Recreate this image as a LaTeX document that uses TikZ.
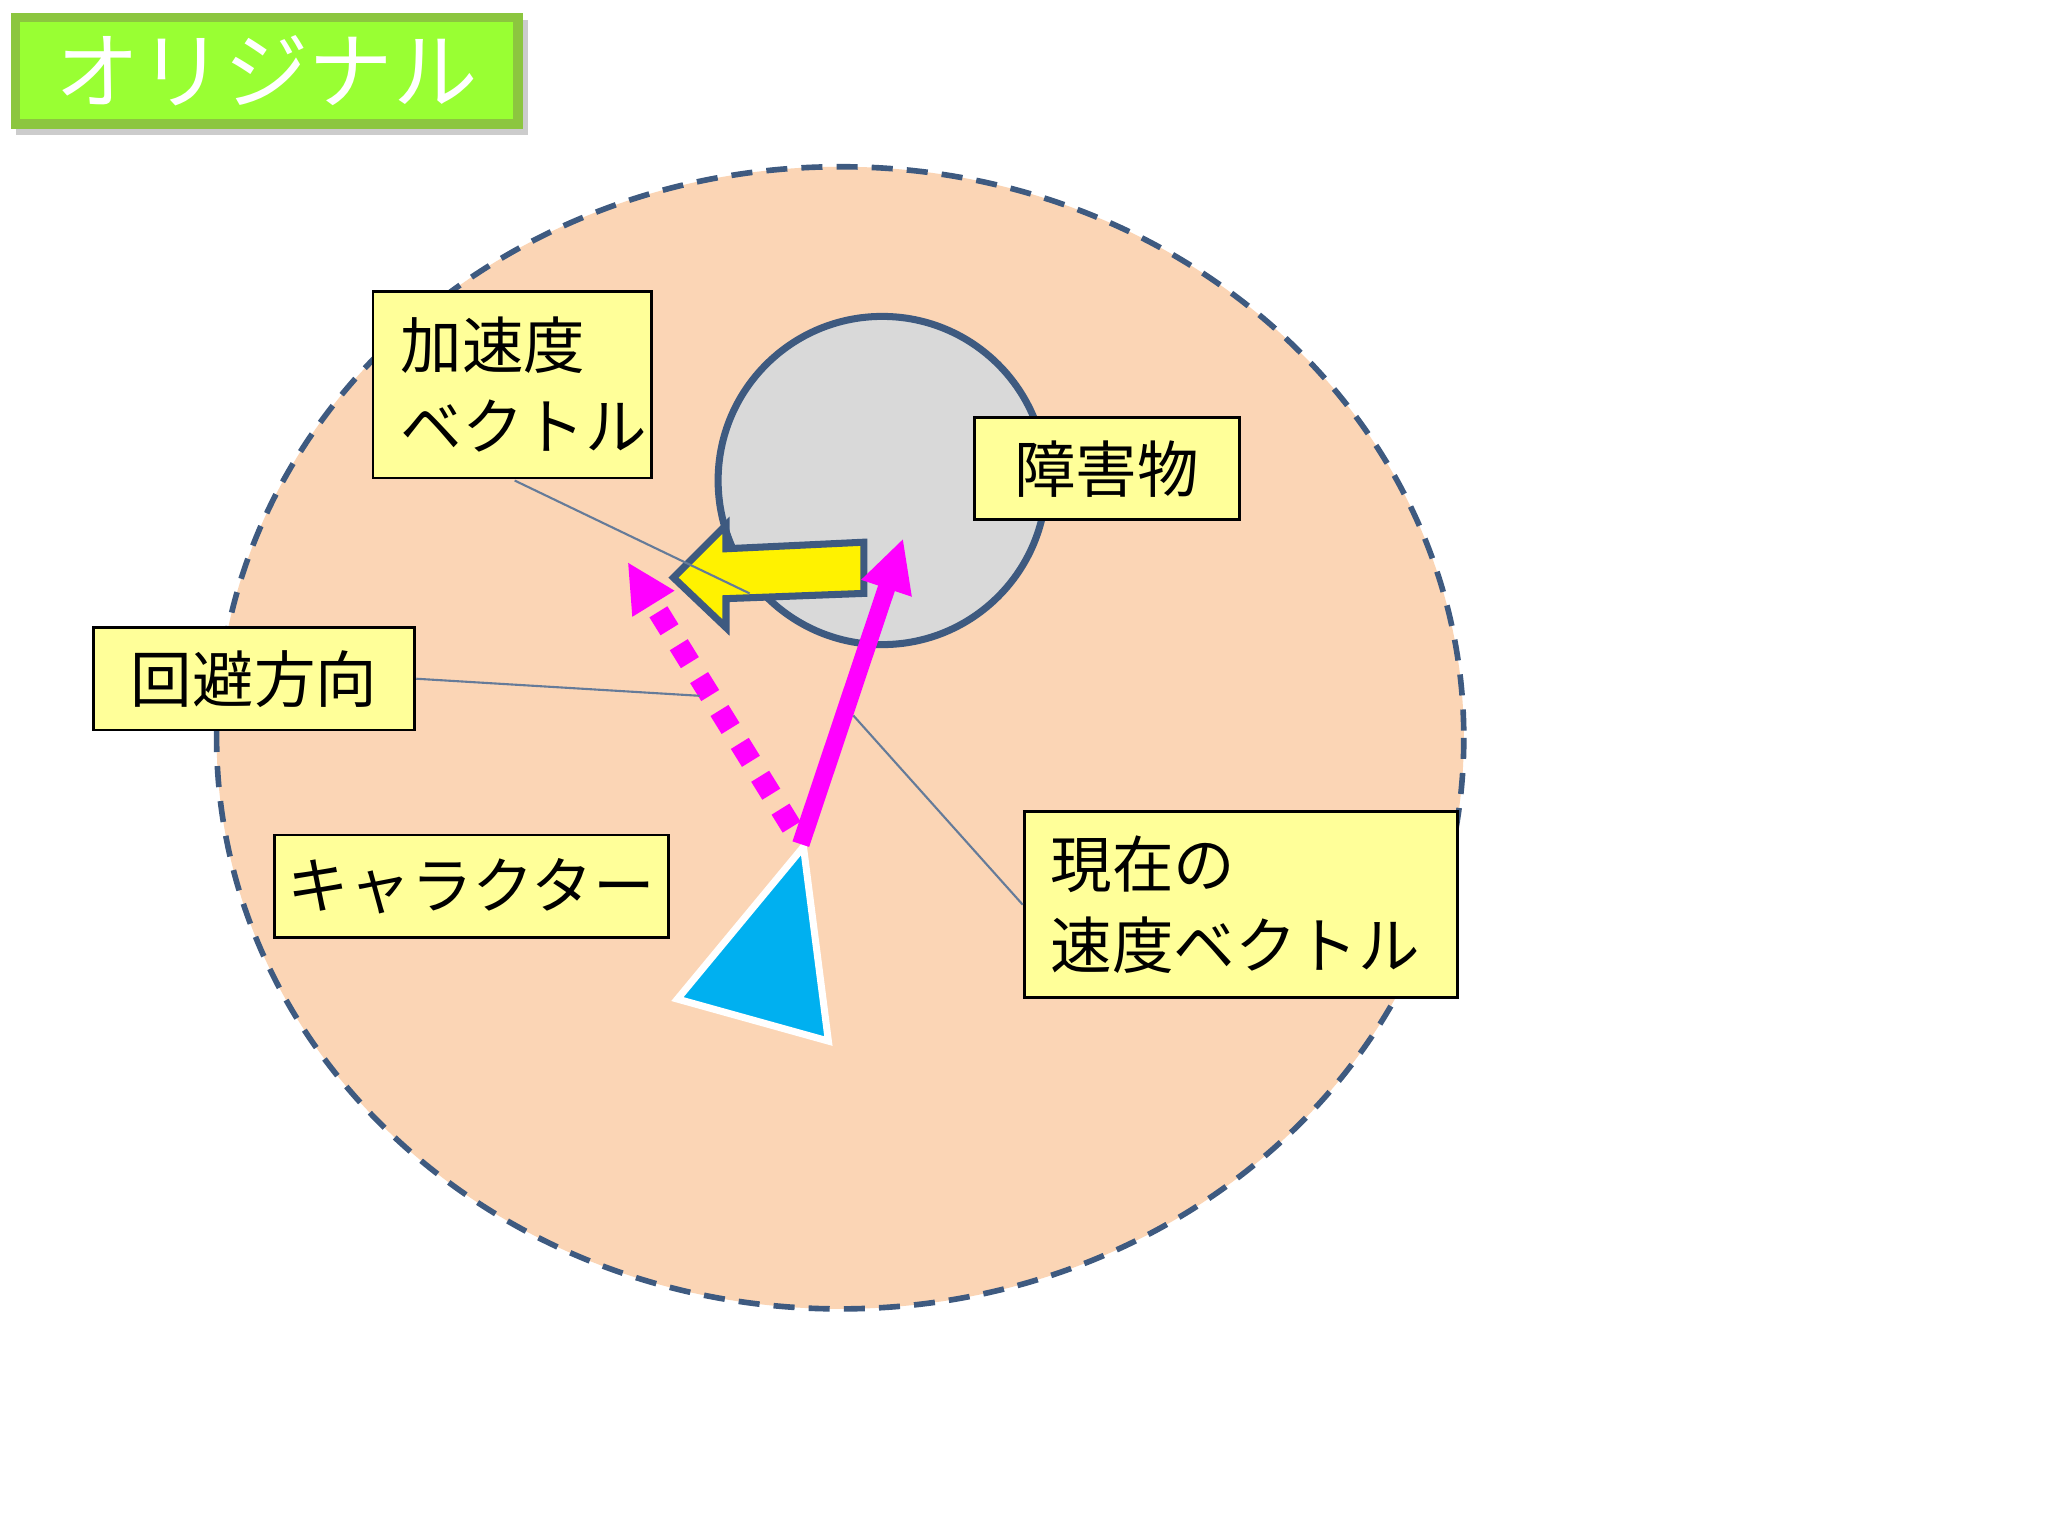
\documentclass[tikz,border=0pt]{standalone}
\usepackage{fontspec}
\setmainfont{Noto Sans CJK JP}
\usetikzlibrary{shapes.arrows,arrows.meta}
\definecolor{peach}{HTML}{FBD5B5}
\definecolor{edgeblue}{HTML}{3E5A80}
\definecolor{lbl}{HTML}{FFFF99}
\definecolor{mag}{HTML}{FF00FF}
\definecolor{cyanf}{HTML}{00B0F0}
\definecolor{grn}{HTML}{8CC63F}
\definecolor{grnin}{HTML}{99FF33}
\tikzset{lab/.style={draw=black,fill=lbl,line width=0.8pt,font=\fontsize{17.5}{23}\selectfont,align=left,anchor=north west,inner sep=0pt},
leader/.style={draw=edgeblue!80,line width=0.6pt}}
\begin{document}
\begin{tikzpicture}[x=0.013128cm,y=-0.013128cm]
\useasboundingbox (0,0) rectangle (1560,1170);
\fill[white] (0,0) rectangle (1560,1170);
% title
\fill[gray!40] (12,15) rectangle (402,103);
\fill[grn] (8,10) rectangle (398,98);
\fill[grnin] (15,17) rectangle (391,91);
\node[text=white,font=\fontsize{24}{30}\selectfont] (title) at (203,54) {オリジナル};
% ellipse
\draw[fill=peach,draw=edgeblue,dash pattern=on 6pt off 4pt,line width=1.6pt] (640,562) ellipse [x radius=475,y radius=435];
% obstacle
\draw[fill=gray!30,draw=edgeblue,line width=2pt] (672,366) circle [radius=125];
% boxes
\node[lab,minimum width=212*0.013128cm,minimum height=142*0.013128cm,text width=200*0.013128cm] (acc) at (283,221) {\hspace*{0.2cm}加速度\\\hspace*{0.2cm}ベクトル};
\node[lab,minimum width=202*0.013128cm,minimum height=78*0.013128cm,anchor=center] (obs) at (843,357) {障害物};
\node[lab,minimum width=245*0.013128cm,minimum height=78*0.013128cm,anchor=center] (avoid) at (193.5,517) {回避方向};
\node[lab,minimum width=300*0.013128cm,minimum height=78*0.013128cm,anchor=center] (chr) at (359,675) {キャラクター};
\node[lab,minimum width=330*0.013128cm,minimum height=142*0.013128cm,text width=320*0.013128cm] (vel) at (779,617) {\hspace*{0.2cm}現在の\\\hspace*{0.2cm}速度ベクトル};
% triangle
\draw[fill=cyanf,draw=white,line width=2pt] (612,645) -- (516,761) -- (631,793) -- cycle;
% yellow block arrow
\draw[fill=yellow,draw=edgeblue,line width=2pt] (658,413) -- (553,418) -- (553,400) -- (513,440) -- (553,478) -- (553,456) -- (658,452) -- cycle;
% magenta arrows
\coordinate (s1) at (610,643); \coordinate (e1) at (688,410);
\coordinate (s2) at (603,630); \coordinate (e2) at (478,428);
\draw[mag,line width=5pt,-{Triangle[length=15pt,width=14pt]}] (s1) -- (e1);
\draw[mag,line width=6pt,dash pattern=on 6pt off 5pt,-{Triangle[length=14pt,width=13pt]}] (s2) -- (e2);
% leaders
\coordinate (l1) at (571,452); \coordinate (l2) at (533,530); \coordinate (l3) at (650,545);
\draw[leader] (392,366) -- (l1);
\draw[leader] (avoid.east) -- (l2);
\draw[leader] (l3) -- (vel.west);
\end{tikzpicture}
\end{document}
